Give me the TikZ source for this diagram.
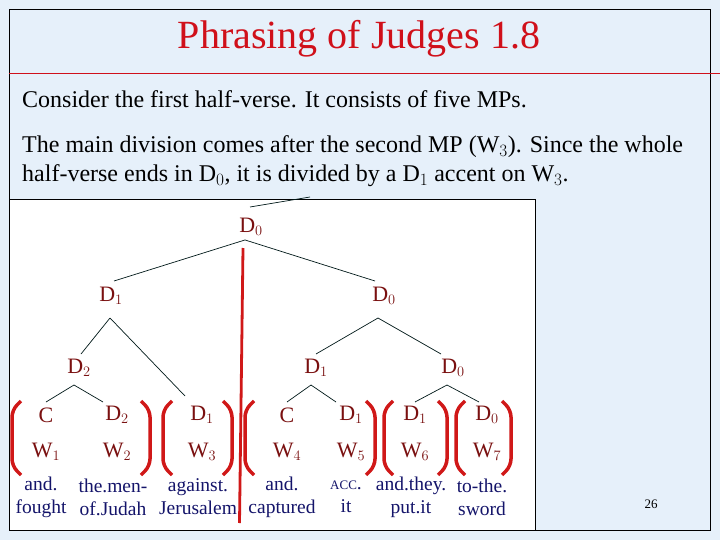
\documentclass[tikz,border=0pt]{standalone}
\usepackage{fontspec}
\setmainfont{Liberation Serif}
\definecolor{bgblue}{HTML}{E6F0FA}
\definecolor{ttl}{HTML}{D0101A}
\definecolor{lab}{HTML}{7A1010}
\definecolor{wrd}{HTML}{14146A}
\definecolor{brk}{HTML}{D01818}
\begin{document}
\begin{tikzpicture}[x=1pt,y=-1pt,
  lab/.style={text=lab,font=\fontsize{22}{22}\selectfont,inner sep=1pt},
  wrd/.style={text=wrd,font=\fontsize{19.5}{23}\selectfont,align=center,inner sep=0pt},
  body/.style={font=\fontsize{24}{29}\selectfont,anchor=base west,inner sep=0pt},
  edge/.style={draw=black!80!teal,line width=0.7pt},
  bracket/.style={draw=brk,line width=3.5pt,rounded corners=7pt}]
\useasboundingbox (0,0) rectangle (720,540);
\fill[bgblue] (0,0) rectangle (720,540);
\draw[black,line width=0.8pt] (9,9) rectangle (710,530);
\draw[ttl,line width=0.8pt] (9,73) -- (720,73);
\node[text=ttl,font=\fontsize{40}{40}\selectfont] (title) at (359,39) {Phrasing of Judges 1.8};
\node[body] (t1) at (22,108) {Consider the first half-verse. It consists of five MPs.};
\node[body] (t2) at (22,153) {The main division comes after the second MP (W$_3$). Since the whole};
\node[body] (t3) at (22,182) {half-verse ends in D$_0$, it is divided by a D$_1$ accent on W$_3$.};
\fill[white] (9,199) rectangle (535,530);
\draw[black,line width=0.8pt] (9,199) rectangle (535,530);
% tree
\node[lab] (r) at (251,227) {D$_0$};
\coordinate (rs) at (310,197);
\draw[edge] (250,207) -- (rs);
\node[lab] (a) at (111,296) {D$_1$};
\node[lab] (b) at (384,296) {D$_0$};
\node[lab] (c) at (79,368) {D$_2$};
\node[lab] (d) at (316,368) {D$_1$};
\node[lab] (e) at (453,368) {D$_0$};
\foreach \n/\x/\t in {l1/46/C,l2/117/D$_2$,l3/202/D$_1$,l4/287/C,l5/351/D$_1$,l6/415/D$_1$,l7/487/D$_0$}
  \node[lab] (\n) at (\x,415) {\t};
\foreach \n/\x/\t in {w1/46/W$_1$,w2/117/W$_2$,w3/202/W$_3$,w4/287/W$_4$,w5/351/W$_5$,w6/415/W$_6$,w7/487/W$_7$}
  \node[lab] (\n) at (\x,452) {\t};
\draw[edge] (r.south) ++(-6,3) coordinate (rb) -- (114,281) coordinate (an);
\draw[edge] (rb) -- (375,281);
\draw[edge] (110,318) -- (81,354);
\draw[edge] (110,318) -- (185,396);
\draw[edge] (378,318) -- (316,354);
\draw[edge] (378,318) -- (441,354);
\draw[edge] (74,385) -- (46,402);
\draw[edge] (74,385) -- (103,402);
\draw[edge] (311,385) -- (287,402);
\draw[edge] (311,385) -- (336,402);
\draw[edge] (447,385) -- (415,402);
\draw[edge] (447,385) -- (479,402);
% words
\node[wrd] (v1) at (41,497) {and.\\fought};
\node[wrd] (v2) at (113,497) {the.men-\\of.Judah};
\node[wrd] (v3) at (198,497) {against.\\Jerusalem};
\node[wrd] (v4) at (282,497) {and.\\captured};
\node[wrd] (v5) at (346,497) {{\fontsize{13}{23}\selectfont ACC}.\\it};
\node[wrd] (v6) at (411,497) {and.they.\\put.it};
\node[wrd] (v7) at (482,497) {to-the.\\sword};
% brackets
\foreach \x in {21,172,254,393,465}
  \draw[bracket] (\x,401) -- (\x-9,410) -- (\x-9,466) -- (\x,475);
\foreach \x in {141,223,366,438,502}
  \draw[bracket] (\x,401) -- (\x+9,410) -- (\x+9,466) -- (\x,475);
\draw[brk,line width=2.8pt] (243,248) -- (239.5,523);
\node[font=\fontsize{13}{13}\selectfont] (pg) at (651,504) {26};
\end{tikzpicture}
\end{document}
